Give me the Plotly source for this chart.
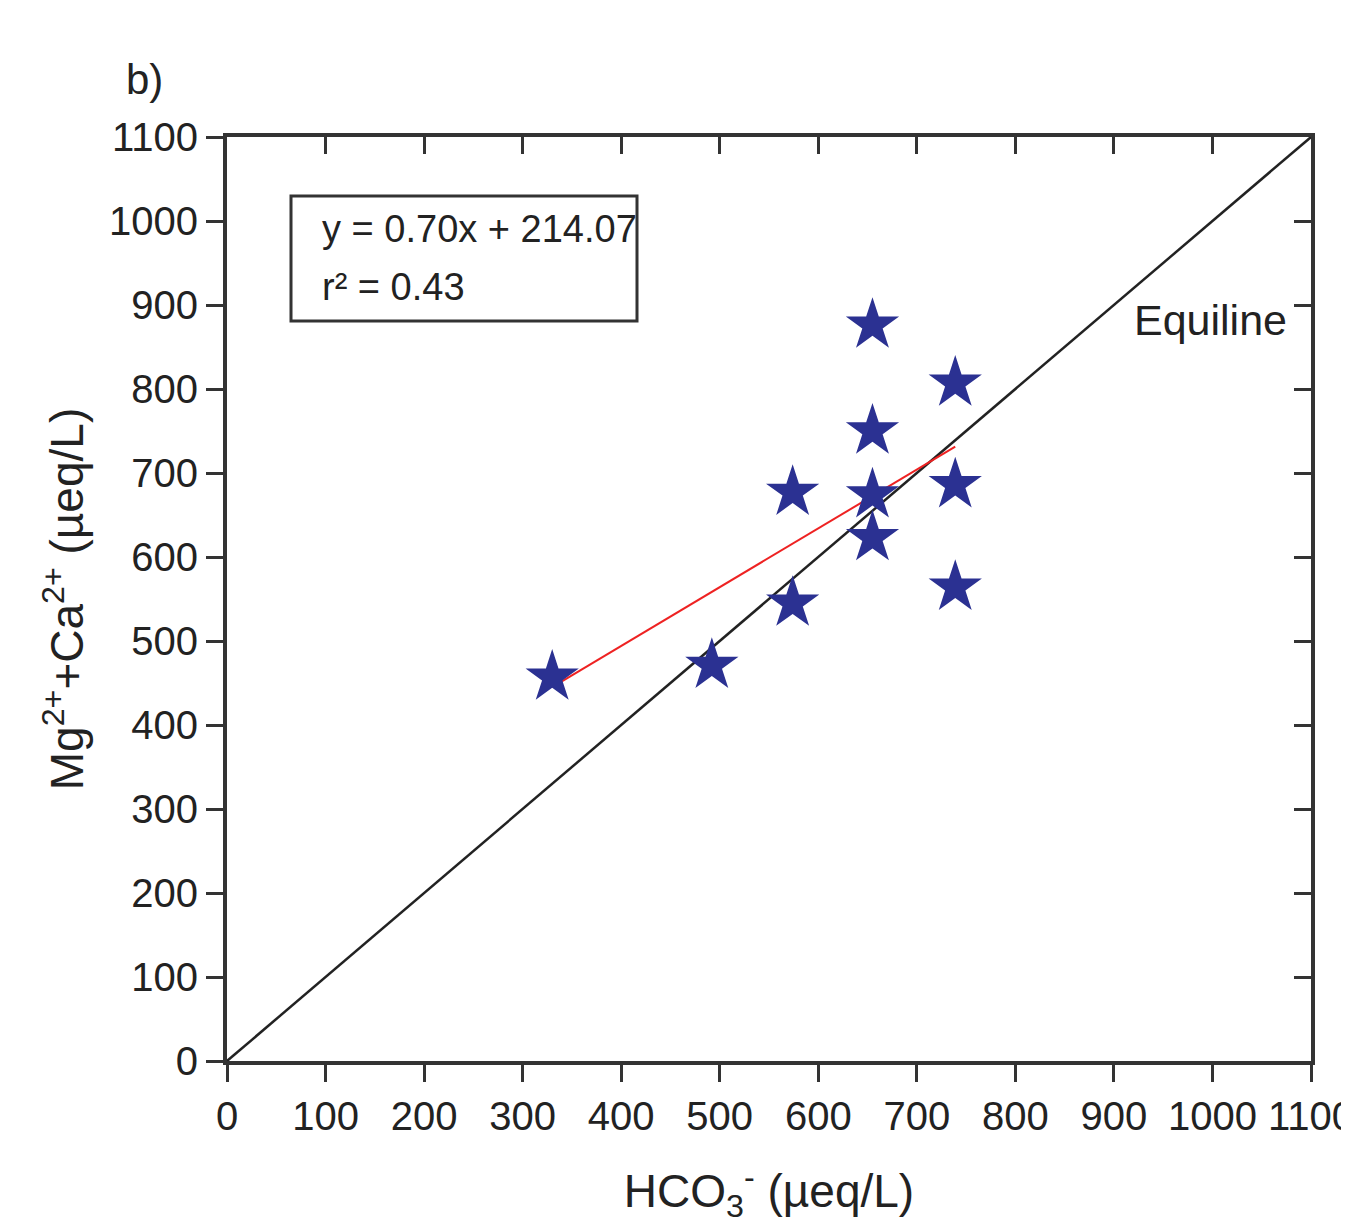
import plotly.graph_objects as go

# Data
hco3 = [330, 492, 574, 574, 655, 655, 655, 655, 739, 739, 739]
mgca = [457, 471, 545, 677, 876, 750, 674, 623, 807, 686, 564]
slope = 0.70
intercept = 214.07
r2 = 0.43
tick_vals = list(range(0, 1101, 100))
tick_text = [str(v) for v in tick_vals]
axis_max = 1100

FONT = "Liberation Sans, Arial, sans-serif"
TXT = "#222222"

fig = go.Figure()

# Equiline
fig.add_trace(go.Scatter(x=[0, axis_max], y=[0, axis_max], mode="lines",
                         line=dict(color="#222222", width=2.5), showlegend=False))
# Regression line
xf = [min(hco3), max(hco3)]
yf = [slope * v + intercept for v in xf]
fig.add_trace(go.Scatter(x=xf, y=yf, mode="lines",
                         line=dict(color="#EE2222", width=2), showlegend=False))
# Points
fig.add_trace(go.Scatter(x=hco3, y=mgca, mode="markers",
                         marker=dict(symbol="star", size=40, color="#2B3192",
                                     line=dict(width=0)),
                         showlegend=False))
# Dummy for top/right axes
fig.add_trace(go.Scatter(x=[0], y=[0], xaxis="x2", yaxis="y2", mode="markers",
                         marker=dict(opacity=0), showlegend=False, hoverinfo="skip"))

common = dict(range=[0, axis_max], tickvals=tick_vals, showgrid=False, zeroline=False)
fig.update_layout(
    width=1341, height=1216,
    margin=dict(l=219, r=38, t=129, b=163),
    paper_bgcolor="white", plot_bgcolor="white",
    font=dict(family=FONT, color=TXT),
    xaxis=dict(**common, ticktext=tick_text[:-1] + [""], ticks="outside", ticklen=17,
               tickwidth=3, tickcolor="#333333",
               showline=True, linewidth=4, linecolor="#333333", mirror=True,
               tickfont=dict(size=40, family=FONT),
               title=dict(text="HCO<sub>3</sub><sup>-</sup> (µeq/L)",
                          font=dict(size=46, family=FONT), standoff=40)),
    yaxis=dict(**common, ticks="outside", ticklen=17, tickwidth=3, tickcolor="#333333",
               showline=True, linewidth=4, linecolor="#333333", mirror=True,
               tickfont=dict(size=40, family=FONT),
               title=dict(text="Mg<sup>2+</sup>+Ca<sup>2+</sup> (µeq/L)",
                          font=dict(size=46, family=FONT), standoff=12)),
    xaxis2=dict(**common, overlaying="x", side="top", ticks="inside", ticklen=17,
                tickwidth=3, tickcolor="#333333", showticklabels=False, showline=False),
    yaxis2=dict(**common, overlaying="y", side="right", ticks="inside", ticklen=17,
                tickwidth=3, tickcolor="#333333", showticklabels=False, showline=False),
)

# Last x tick label (clipped by page edge in reference)
fig.add_annotation(xref="x", yref="paper", x=tick_vals[-1], y=0, yshift=-31,
                   text=tick_text[-1], showarrow=False, xanchor="center", yanchor="top",
                   font=dict(size=40, family=FONT, color=TXT))

# Equation box
fig.add_shape(type="rect", xref="paper", yref="paper",
              x0=(291 - 227) / 1084, x1=(637 - 227) / 1084,
              y0=(1061 - 321) / 924, y1=(1061 - 196) / 924,
              line=dict(color="#333333", width=3), fillcolor="white", layer="above")
fig.add_annotation(xref="paper", yref="paper", x=(320 - 227) / 1084, y=(1061 - 229) / 924,
                   text=f"y = {slope:.2f}x + {intercept:.2f}", showarrow=False,
                   xanchor="left", yanchor="middle", font=dict(size=38, family=FONT))
fig.add_annotation(xref="paper", yref="paper", x=(320 - 227) / 1084, y=(1061 - 287) / 924,
                   text=f"r² = {r2:.2f}", showarrow=False,
                   xanchor="left", yanchor="middle", font=dict(size=38, family=FONT))
fig.add_annotation(xref="paper", yref="paper", x=(1289 - 227) / 1084, y=(1061 - 320) / 924,
                   text="Equiline", showarrow=False, xanchor="right", yanchor="middle",
                   font=dict(size=43, family=FONT))
fig.add_annotation(xref="paper", yref="paper", x=(124 - 227) / 1084, y=(1061 - 80) / 924,
                   text="b)", showarrow=False, xanchor="left", yanchor="middle",
                   font=dict(size=42, family=FONT))

fig.write_html("out.html")
